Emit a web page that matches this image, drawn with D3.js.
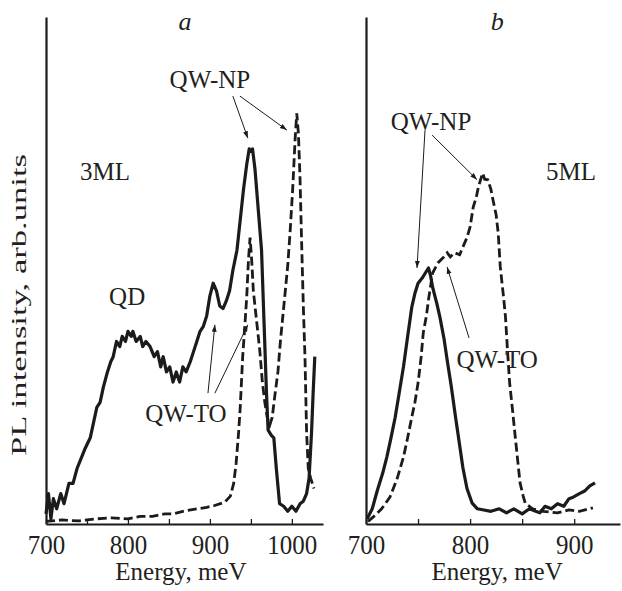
<!DOCTYPE html>
<html>
<head>
<meta charset="utf-8">
<script src="https://cdn.jsdelivr.net/npm/d3@7"></script>
<style>
  body { margin: 0; background: #fff; }
  text { font-family: "Liberation Serif", "Times New Roman", serif; fill: #231f20; }
</style>
</head>
<body>
<svg id="chart" width="622" height="591"></svg>
<script>
// panel a (3ML) - solid trace
var solidA_E = [700,703,706,709,713,718,722,728,733,738,743,748,754,758,762,766,770,775,779,782,786,790,793,797,800,804,806,810,815,818,822,827,832,836,840,843,847,851,855,859,863,867,871,876,880,884,888,892,896,900,904,908,912,916,920,924,928,933,937,941,945,948,950,952,955,959,963,966,969,971,975,978,981,985,990,995,1000,1005,1010,1014,1018,1021,1024,1026,1028];
var solidA_I = [2,6,1,5,3,6,4,8,8,11,13,15,17,20,23,24,27,30,32,33,36,35,37,36,38,37,38,36,37,35,36,35,33,34,31,33,30,31,28,30,28,31,30,32,34,36,38,39,41,45,47.5,46,43,42.5,44,46,50,54,60,66,71,74,73.5,74,70,62,54,40,26,18.5,17.5,17,11,4,3.5,2.5,3.5,2.5,4,4.5,6,9,18,26,33];
// panel a - dashed trace
var dashA_E = [700,720,740,760,780,800,815,830,845,855,870,885,896,905,918,925,929,932,935,937,940,943,945,947,949,951,953,957,961,964,967,970,973,976,979,983,986,989,992,995,998,1001,1004,1006,1008,1010,1012,1014,1016,1018,1020,1023,1027];
var dashA_I = [0.5,0.8,0.6,1,1.2,1,1.5,1.5,2,2,2.6,3,3.3,3.6,4.3,5.5,8,12,18,23,33,40,45,52,56.5,52,46,40,34,28,24,21,19.5,21,25,30,36,41,46,51,58,66,76,81,77,68,55,43,33,18,11,9,7];

// panel b (5ML) - solid trace
var solidB_E = [701,702,706,711,716,720,724,728,732,736,740,744,747,750,754,757,760,762,764,768,771,775,778,782,786,790,793,797,802,807,812,820,828,835,842,850,857,863,867,872,878,884,890,895,899,905,910,915,920];
var solidB_I = [1,1.4,3,6.7,10,13.2,17,21,26,31,37,42.8,45.5,47.5,48.5,49.5,50.5,49,46.7,43.5,40.8,36.5,32.3,27,21.1,15.5,11.2,7,4.1,3,2.8,2.5,3,2.2,3,2,3,2.5,2.2,3.5,3,4,3.5,5,5.3,6,6.5,7.5,8.1];
// panel b - dashed trace
var dashB_E = [702,707,715,723,730,736,740,744,747,750,753,755,758,760,764,769,774,778,781,785,790,793,797,800,803,806,808,812,814,817,820,822,825,827,829,832,834,836,838,841,843,846,848,851,853,860,870,884,895,905,918];
var dashB_I = [0.5,1.4,3,5.3,9,13.2,17,21.1,24,27.8,33,37.7,41,44.2,49.5,51.5,52.5,53.5,52.7,53.5,53.1,54.6,56.5,58.6,62.5,64.5,66.5,69.2,68,67.9,66,63.9,61,57.4,50.7,45,40.8,34,27.8,22,17.9,12,8.1,5.5,4.1,3,2.5,2.2,2.8,2.5,3.2];

var ticksA = [700,750,800,850,900,950,1000];
var ticksB = [700,750,800,850,900];

// annotations: [label, energy, intensity]
var labelsA = [["3ML",772,67.9],["QD",799,43.2],["QW-NP",900,86],["QW-TO",870.7,20.1]];
var labelsB = [["QW-NP",762.5,77.7],["5ML",897,67.9],["QW-TO",826,30.8]];
// arrows: [fromE, fromI, toE, toI]
var arrowsA = [[928,84.4,946.3,76.1],[936.6,84.4,993.9,77.7],[897.6,25.8,906.1,39.3],[906.1,25.8,946.3,39.3]];
var arrowsB = [[756.7,77.7,749,50.5],[763.5,76.7,806.7,67.9],[799,36.7,777.9,50.7]];

var svg = d3.select("#chart");
var ink = "#1c1a1b";

svg.append("defs").append("marker")
  .attr("id", "arr")
  .attr("viewBox", "0 0 10 10")
  .attr("refX", 10).attr("refY", 5)
  .attr("markerWidth", 7).attr("markerHeight", 7)
  .attr("markerUnits", "userSpaceOnUse")
  .attr("orient", "auto")
  .append("path").attr("d", "M0,1.5L10,5L0,8.5Z").attr("fill", ink);

var y = d3.scaleLinear().domain([0, 100]).range([524, 17]);

function zip(E, I) {
  return E.map(function(e, i) { return [e, I[i]]; });
}

function panel(opt) {
  var x = d3.scaleLinear().domain(opt.domain).range(opt.range);
  var g = svg.append("g");

  var line = d3.line()
    .x(function(d) { return x(d[0]); })
    .y(function(d) { return y(d[1]); });

  // dashed first so the solid sits on top
  g.append("path")
    .datum(zip(opt.dashE, opt.dashI))
    .attr("d", line)
    .attr("fill", "none").attr("stroke", ink)
    .attr("stroke-width", 2.8)
    .attr("stroke-dasharray", "9,4");

  g.append("path")
    .datum(zip(opt.solidE, opt.solidI))
    .attr("d", line)
    .attr("fill", "none").attr("stroke", ink)
    .attr("stroke-width", 3.2)
    .attr("stroke-linejoin", "round");

  var xAxis = g.append("g")
    .attr("transform", "translate(0,524)")
    .call(d3.axisBottom(x)
      .tickValues(opt.ticks)
      .tickSizeInner(-5).tickSizeOuter(0).tickPadding(9)
      .tickFormat(function(d) { return d % 100 === 0 ? d : ""; }));
  xAxis.select(".domain").attr("stroke", ink).attr("stroke-width", 2.2);
  xAxis.selectAll(".tick line").attr("stroke", ink).attr("stroke-width", 1.3);
  xAxis.selectAll(".tick text")
    .attr("font-size", 25).attr("fill", ink)
    .attr("transform", "scale(1,1.12)")
    .style("font-family", "Liberation Serif, serif");

  var yAxis = g.append("g")
    .attr("transform", "translate(" + opt.range[0] + ",0)")
    .call(d3.axisLeft(y).tickValues([]).tickSizeOuter(0));
  yAxis.select(".domain").attr("stroke", ink).attr("stroke-width", 2.2);

  g.append("text")
    .attr("x", x(opt.titleE)).attr("y", 30)
    .attr("text-anchor", "middle")
    .attr("font-size", 26).attr("font-style", "italic")
    .text(opt.title);

  g.append("text")
    .attr("x", x(opt.xlabelE)).attr("y", 580)
    .attr("text-anchor", "middle")
    .attr("font-size", 25)
    .text("Energy, meV");

  g.selectAll(".lab").data(opt.labels).enter()
    .append("text")
    .attr("x", function(d) { return x(d[1]); })
    .attr("y", function(d) { return y(d[2]); })
    .attr("text-anchor", "middle")
    .attr("font-size", 25)
    .text(function(d) { return d[0]; });

  g.selectAll(".arrow").data(opt.arrows).enter()
    .append("line")
    .attr("x1", function(d) { return x(d[0]); })
    .attr("y1", function(d) { return y(d[1]); })
    .attr("x2", function(d) { return x(d[2]); })
    .attr("y2", function(d) { return y(d[3]); })
    .attr("stroke", ink).attr("stroke-width", 1)
    .attr("marker-end", "url(#arr)");
}

panel({
  domain: [700, 1038], range: [46, 323],
  solidE: solidA_E, solidI: solidA_I, dashE: dashA_E, dashI: dashA_I,
  ticks: ticksA, title: "a", titleE: 869.5, xlabelE: 864.6,
  labels: labelsA, arrows: arrowsA
});

panel({
  domain: [700, 944], range: [366, 620],
  solidE: solidB_E, solidI: solidB_I, dashE: dashB_E, dashI: dashB_I,
  ticks: ticksB, title: "b", titleE: 826, xlabelE: 826,
  labels: labelsB, arrows: arrowsB
});

svg.append("text")
  .attr("transform", "translate(26,305) rotate(-90)")
  .attr("text-anchor", "middle")
  .attr("font-size", 21)
  .attr("textLength", 302).attr("lengthAdjust", "spacingAndGlyphs")
  .text("PL intensity, arb.units");
</script>
</body>
</html>
